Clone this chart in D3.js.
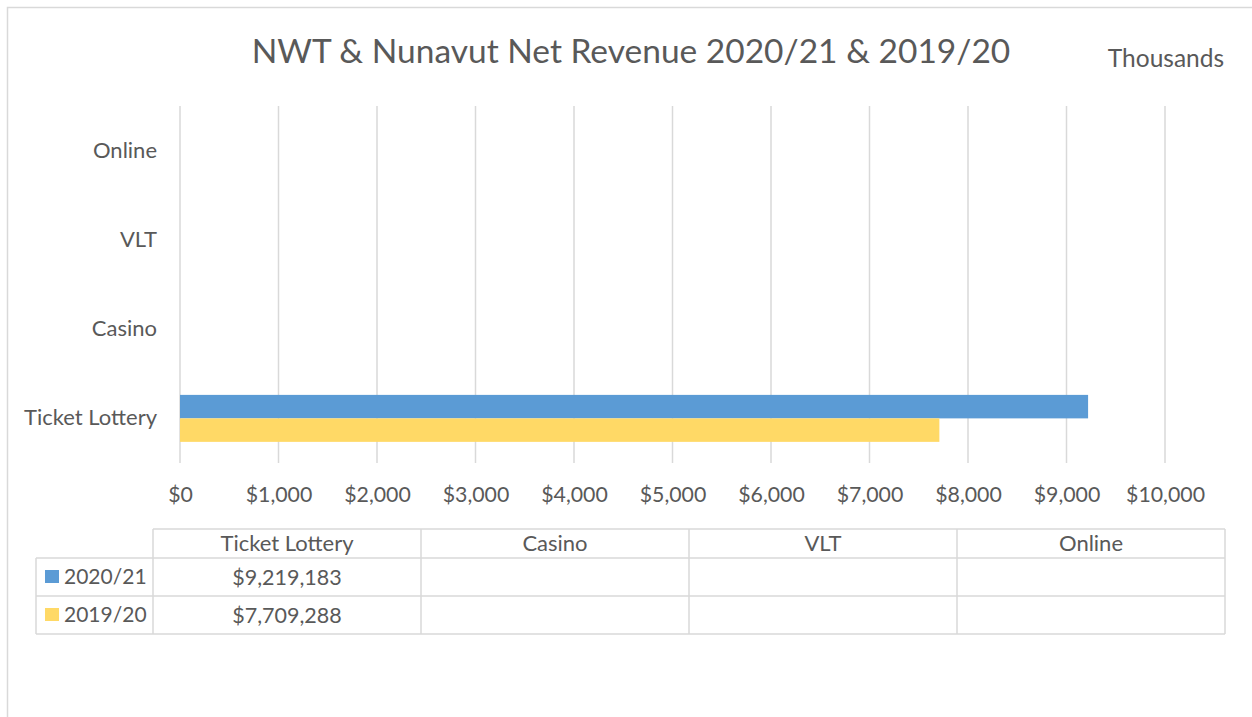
<!DOCTYPE html>
<html>
<head>
<meta charset="utf-8">
<script src="https://cdn.jsdelivr.net/npm/d3@7"></script>
<style>
  html, body { margin: 0; padding: 0; background: #fff; }
  svg { display: block; }
  text { font-family: Lato, "Open Sans", sans-serif; fill: #595959; }
</style>
</head>
<body>
<svg id="chart" width="1252" height="717"></svg>
<script>
// Net revenue by channel, in dollars
const categories = ["Ticket Lottery", "Casino", "VLT", "Online"];
const seriesNames = ["2020/21", "2019/20"];
const revenue2021 = [9219183, null, null, null];
const revenue1920 = [7709288, null, null, null];
const seriesColors = ["#5B9BD5", "#FFD966"];
const xTicks = [0, 1000, 2000, 3000, 4000, 5000, 6000, 7000, 8000, 9000, 10000];
const titleText = "NWT & Nunavut Net Revenue 2020/21 & 2019/20";
const unitsText = "Thousands";

const seriesValues = [revenue2021, revenue1920];
const W = 1252, H = 717;
const svg = d3.select("#chart");
const grid = "#d9d9d9";
const ff = "Lato, 'Open Sans', sans-serif";

// chart frame (left and top edges)
svg.append("path")
  .attr("d", `M7.5,${H} V7.5 H${W}`)
  .attr("fill", "none").attr("stroke", grid).attr("stroke-width", 1.5);

const plot = { left: 180, right: 1165, top: 106, bottom: 463 };

// values plotted in thousands
const x = d3.scaleLinear().domain([0, 10000]).range([plot.left, plot.right]);
const y = d3.scaleBand().domain(categories).range([plot.bottom, plot.top]);
const ySeries = d3.scaleBand().domain(seriesNames)
  .range([0, y.bandwidth()]).paddingInner(0).paddingOuter(0.9);

// title
svg.append("text")
  .attr("x", 631).attr("y", 63)
  .attr("text-anchor", "middle")
  .attr("font-size", 33.5)
  .text(titleText);

svg.append("text")
  .attr("x", 1166).attr("y", 67)
  .attr("text-anchor", "middle")
  .attr("font-size", 24.5)
  .text(unitsText);

// vertical gridlines
svg.append("g").selectAll("line")
  .data(xTicks).join("line")
  .attr("x1", d => x(d)).attr("x2", d => x(d))
  .attr("y1", plot.top).attr("y2", plot.bottom)
  .attr("stroke", grid).attr("stroke-width", 1.5);

// x axis labels
const xAxis = d3.axisBottom(x).tickValues(xTicks)
  .tickFormat(d => "$" + d3.format(",")(d)).tickSize(0).tickPadding(0);
const gx = svg.append("g").attr("transform", `translate(0,${plot.bottom})`).call(xAxis);
gx.select(".domain").remove();
gx.selectAll("text").attr("font-size", 21.3).attr("dy", 0).attr("y", 39)
  .style("font-family", ff).attr("fill", "#595959");

// category axis labels
const yAxis = d3.axisLeft(y).tickSize(0).tickPadding(0);
const gy = svg.append("g").attr("transform", `translate(${plot.left - 23},0)`).call(yAxis);
gy.select(".domain").remove();
gy.selectAll("text").attr("font-size", 22)
  .style("font-family", ff).attr("fill", "#595959");

// bars
seriesNames.forEach((s, si) => {
  svg.append("g").selectAll("rect")
    .data(categories.map((c, ci) => ({ c, v: seriesValues[si][ci] })).filter(d => d.v != null))
    .join("rect")
    .attr("x", x(0))
    .attr("y", d => y(d.c) + ySeries(s))
    .attr("width", d => x(d.v / 1000) - x(0))
    .attr("height", ySeries.bandwidth())
    .attr("fill", seriesColors[si]);
});

// data table
const tbl = { left: 36, keyRight: 153, right: 1225, rows: [529, 558, 596, 634] };
const col = d3.scaleBand().domain(categories).range([tbl.keyRight, tbl.right]);
const tg = svg.append("g");
const lineStyle = sel => sel.attr("stroke", grid).attr("stroke-width", 1.5);

// horizontal rules
tg.append("line").attr("x1", tbl.keyRight).attr("x2", tbl.right)
  .attr("y1", tbl.rows[0]).attr("y2", tbl.rows[0]).call(lineStyle);
tbl.rows.slice(1).forEach(r => {
  tg.append("line").attr("x1", tbl.left).attr("x2", tbl.right)
    .attr("y1", r).attr("y2", r).call(lineStyle);
});
// vertical rules
tg.append("line").attr("x1", tbl.left).attr("x2", tbl.left)
  .attr("y1", tbl.rows[1]).attr("y2", tbl.rows[3]).call(lineStyle);
categories.concat([null]).forEach(c => {
  const xx = c ? col(c) : tbl.right;
  tg.append("line").attr("x1", xx).attr("x2", xx)
    .attr("y1", tbl.rows[0]).attr("y2", tbl.rows[3]).call(lineStyle);
});

// header labels
categories.forEach(c => {
  tg.append("text")
    .attr("x", col(c) + col.bandwidth() / 2)
    .attr("y", (tbl.rows[0] + tbl.rows[1]) / 2)
    .attr("dy", "0.35em")
    .attr("text-anchor", "middle")
    .attr("font-size", 22)
    .text(c);
});

// series rows
const money = d3.format("$,");
seriesNames.forEach((s, si) => {
  const top = tbl.rows[si + 1], bot = tbl.rows[si + 2];
  const mid = (top + bot) / 2;
  tg.append("rect").attr("x", 45).attr("y", mid - 7).attr("width", 14).attr("height", 13)
    .attr("fill", seriesColors[si]);
  tg.append("text").attr("x", 64).attr("y", mid).attr("dy", "0.35em")
    .attr("font-size", 21).text(s);
  categories.forEach((c, ci) => {
    const v = seriesValues[si][ci];
    if (v == null) return;
    tg.append("text")
      .attr("x", col(c) + col.bandwidth() / 2)
      .attr("y", mid).attr("dy", "0.35em")
      .attr("text-anchor", "middle")
      .attr("font-size", 21.5)
      .text(money(v));
  });
});
</script>
</body>
</html>
